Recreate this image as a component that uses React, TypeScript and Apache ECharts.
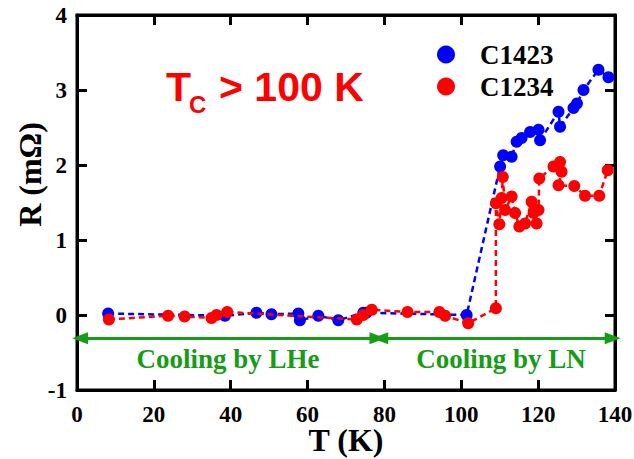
import React, { useEffect, useRef } from "react";
import * as echarts from "echarts";

const c1423T = [8.1, 38.5, 46.7, 50.6, 57.6, 58.0, 62.8, 68.0, 74.5, 75.3, 101.4, 110.1, 110.9, 113.1, 114.4, 115.7, 117.9, 120.1, 120.5, 125.3, 125.7, 129.2, 130.1, 131.8, 135.7, 138.3];
const c1423R = [0.02, -0.01, 0.03, 0.01, 0.02, -0.07, -0.01, -0.07, 0.03, 0.03, 0.0, 1.98, 2.13, 2.11, 2.31, 2.36, 2.44, 2.47, 2.33, 2.71, 2.51, 2.76, 2.82, 3.0, 3.27, 3.17];

const c1234T = [8.3, 23.7, 28.0, 35.0, 36.3, 39.1, 72.8, 74.5, 76.7, 86.0, 94.3, 95.8, 101.8, 109.0, 109.0, 109.9, 110.5, 110.8, 111.4, 113.1, 114.0, 115.1, 116.6, 118.3, 118.8, 119.6, 120.1, 120.3, 124.0, 125.7, 126.1, 125.3, 129.4, 132.2, 135.9, 138.1];
const c1234R = [-0.06, -0.01, -0.02, -0.04, 0.0, 0.04, -0.06, 0.0, 0.07, 0.04, 0.04, -0.01, -0.11, 0.09, 1.49, 1.21, 1.56, 1.84, 1.4, 1.58, 1.36, 1.18, 1.22, 1.51, 1.36, 1.22, 1.4, 1.82, 1.98, 2.04, 1.91, 1.73, 1.72, 1.59, 1.59, 1.93];

const xTicks = { min: 0, max: 140, interval: 20 };
const yTicks = { min: -1, max: 4, interval: 1 };

const lheRange = [0.8, 78.2];
const lnRange = [78.9, 139.4];
const arrowY = -0.31;

const SERIF = "'Liberation Serif', 'Times New Roman', serif";
const SANS = "'Liberation Sans', Arial, sans-serif";
const GREEN = "#169c16";

export default function App() {
  const ref = useRef<HTMLDivElement>(null);
  useEffect(() => {
    if (!ref.current) return;
    const chart = echarts.init(ref.current, null, { renderer: "svg" });
    const axisLine = { show: true, onZero: false, lineStyle: { color: "#000", width: 3 } };
    const tick = { show: true, inside: true, length: 10, lineStyle: { color: "#000", width: 3 } };
    const label = { color: "#000", fontFamily: SERIF, fontWeight: "bold", fontSize: 23, lineHeight: 22 };
    const pair = (t: number[], r: number[]) => t.map((v, i) => [v, r[i]]);
    chart.setOption({
      animation: false,
      backgroundColor: "#fff",
      grid: {
        left: 77, right: 19, top: 15, bottom: 69,
        outerBoundsMode: "none", containLabel: false,
        show: true, borderColor: "#000", borderWidth: 3, backgroundColor: "transparent",
      },
      legend: {
        orient: "vertical",
        left: 432,
        top: 36,
        itemWidth: 18,
        itemHeight: 18,
        itemGap: 5,
        icon: "circle",
        textStyle: { fontFamily: SERIF, fontWeight: "bold", fontSize: 27, lineHeight: 26, color: "#000", padding: [0, 0, 0, 20] },
        data: ["C1423", "C1234"],
      },
      xAxis: [
        {
          type: "value",
          ...xTicks,
          position: "bottom",
          name: "T (K)",
          nameLocation: "middle",
          nameGap: 35,
          nameMoveOverlap: false,
          nameTextStyle: { fontFamily: SERIF, fontWeight: "bold", fontSize: 32, lineHeight: 30, color: "#000" },
          axisLine,
          axisTick: tick,
          axisLabel: { ...label, margin: 13 },
          splitLine: { show: false },
        },
        {
          type: "value",
          ...xTicks,
          position: "top",
          axisLine,
          axisTick: tick,
          axisLabel: { show: false },
          splitLine: { show: false },
        },
      ],
      yAxis: [
        {
          type: "value",
          ...yTicks,
          position: "left",
          name: "R (mΩ)",
          nameLocation: "middle",
          nameGap: 31,
          nameMoveOverlap: false,
          nameTextStyle: { fontFamily: SERIF, fontWeight: "bold", fontSize: 32, color: "#000", padding: [0, 0, 0, 56] },
          axisLine,
          axisTick: tick,
          axisLabel: { ...label, margin: 10 },
          splitLine: { show: false },
        },
        {
          type: "value",
          ...yTicks,
          position: "right",
          axisLine,
          axisTick: tick,
          axisLabel: { show: false },
          splitLine: { show: false },
        },
      ],
      series: [
        {
          name: "C1423",
          type: "line",
          data: pair(c1423T, c1423R),
          symbol: "circle",
          symbolSize: 12,
          itemStyle: { color: "#0000ff" },
          lineStyle: { color: "#0000ff", width: 2.5, type: [6, 4] },
          z: 3,
        },
        {
          name: "C1234",
          type: "line",
          data: pair(c1234T, c1234R),
          symbol: "circle",
          symbolSize: 12,
          itemStyle: { color: "#ff0000" },
          lineStyle: { color: "#ff0000", width: 2.5, type: [6, 4] },
          z: 4,
          markLine: {
            silent: true,
            symbol: ["triangle", "triangle"],
            symbolSize: [12, 16],
            label: { show: false },
            lineStyle: { color: GREEN, width: 3, type: "solid" },
            data: [
              [{ coord: [lheRange[0], arrowY] }, { coord: [lheRange[1], arrowY] }],
              [{ coord: [lnRange[0], arrowY] }, { coord: [lnRange[1], arrowY] }],
            ],
          },
        },
      ],
      graphic: [
        { type: "text", left: 166, top: 66, style: { text: "T", fill: "#ff0000", font: `bold 41px ${SANS}` } },
        { type: "text", left: 189, top: 92, style: { text: "C", fill: "#ff0000", font: `bold 24px ${SANS}` } },
        { type: "text", left: 219, top: 66, style: { text: "> 100 K", fill: "#ff0000", font: `bold 41px ${SANS}` } },
        { type: "text", x: 228, y: 359, style: { text: "Cooling by LHe", fill: GREEN, font: `bold 27px ${SERIF}`, align: "center", verticalAlign: "middle" } },
        { type: "text", x: 501, y: 359, style: { text: "Cooling by LN", fill: GREEN, font: `bold 27px ${SERIF}`, align: "center", verticalAlign: "middle" } },
      ],
    });
    return () => chart.dispose();
  }, []);
  return <div ref={ref} style={{ position: "fixed", left: 0, top: 0, width: 634, height: 459 }} />;
}
